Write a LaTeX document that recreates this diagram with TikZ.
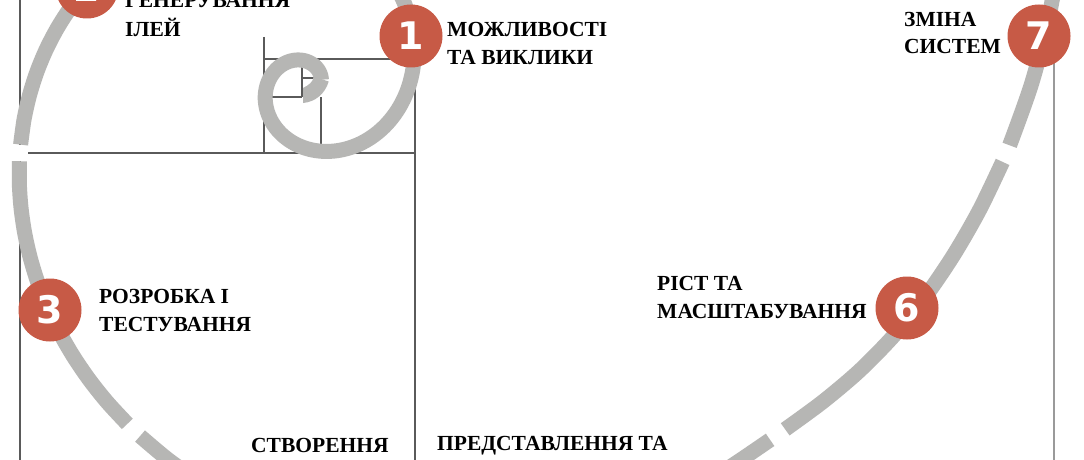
\documentclass[tikz,border=0pt]{standalone}
\usepackage{fontspec}
\setmainfont{Liberation Serif}
\newfontfamily\numfont{DejaVu Sans}
\definecolor{spiralgray}{HTML}{B6B6B4}
\definecolor{badge}{HTML}{C75A46}
\definecolor{gridline}{HTML}{5A5A5A}
\definecolor{frameline}{HTML}{9A9A9A}
\pgfmathdeclarefunction{spr}{1}{\pgfmathparse{111*exp(0.005413*(#1-13.5))-8*exp(-((#1-322)/10)^2)}}
\tikzset{
  grid line/.style={draw=gridline,line width=1.3pt},
  frame line/.style={draw=frameline,line width=1.5pt},
  spiral/.style={draw=spiralgray,line width=15pt,line cap=butt},
  badge node/.style={circle,fill=badge,minimum size=63pt,inner sep=0pt,text=white,font=\numfont\bfseries\fontsize{38}{38}\selectfont},
  label node/.style={anchor=base west,inner sep=0pt,text=black,font=\bfseries\fontsize{21.5}{22}\selectfont}
}
\newcommand{\spiralarc}[3]{\draw[spiral] plot[domain=#1:#2,samples=#3,smooth,variable=\a] ({306+spr(\a)*cos(\a)},{85-spr(\a)*sin(\a)});}
\begin{document}
\begin{tikzpicture}[x=1pt,y=-1pt]
\useasboundingbox (0,0) rectangle (1084,460);
\clip (0,0) rectangle (1084,460);
\fill[white] (0,0) rectangle (1084,460);
% golden-rectangle grid
\draw[grid line] (20,0) -- (20,145);
\draw[grid line] (20,161) -- (20,460);
\draw[grid line] (28,153) -- (415,153);
\draw[grid line] (415,59) -- (415,460);
\draw[grid line] (264,59) -- (415,59);
\draw[grid line] (264,37) -- (264,153);
\draw[grid line] (321,97) -- (321,153);
\draw[grid line] (264,97) -- (302,97);
\draw[grid line] (302,65) -- (302,97);
\draw[grid line] (302,78) -- (314,78);
\draw[frame line] (1054,0) -- (1054,460);
% spiral pieces
\fill[spiralgray] (313.8,76.5) .. controls (313,82) and (309,85) .. (303,88) -- (303,103) .. controls (315,102) and (325,94) .. (328.7,81.5) -- cycle;
\spiralarc{-341}{191.8}{110}
\spiralarc{194.9}{242.2}{12}
\spiralarc{244.7}{322.6}{16}
\spiralarc{324.3}{353.7}{8}
\spiralarc{355.1}{380}{6}
% badges
\node[badge node] (n1) at (411,36) {1};
\node[badge node] (n2) at (87,-13) {2};
\node[badge node] (n3) at (50,310) {3};
\node[badge node] (n6) at (907,308) {6};
\node[badge node] (n7) at (1039,36) {7};
% labels
\node[label node] (l2a) at (125,8) {ГЕНЕРУВАННЯ};
\node[label node] (l2b) at (125,37) {ІЛЕЙ};
\node[label node] (l1a) at (447,37) {МОЖЛИВОСТІ};
\node[label node] (l1b) at (447,65) {ТА ВИКЛИКИ};
\node[label node] (l7a) at (904,27) {ЗМІНА};
\node[label node] (l7b) at (904,54) {СИСТЕМ};
\node[label node] (l3a) at (99,303) {РОЗРОБКА І};
\node[label node] (l3b) at (99,331) {ТЕСТУВАННЯ};
\node[label node] (l6a) at (657,290) {РІСТ ТА};
\node[label node] (l6b) at (657,318) {МАСШТАБУВАННЯ};
\node[label node] (l4) at (251,452) {СТВОРЕННЯ};
\node[label node] (l5) at (437,450) {ПРЕДСТАВЛЕННЯ ТА};
\end{tikzpicture}
\end{document}
